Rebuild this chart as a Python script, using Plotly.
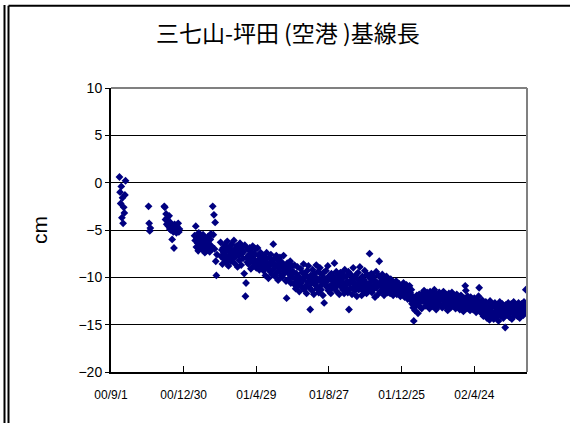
import pandas as pd
import plotly.graph_objects as go

# ---- data (cm), one value per day ----
seg_a_start = "2000-09-15"
seg_a_values = [0.6, -1.0, -2.2, -0.4, -3.7, -1.6, -4.3, -2.6, -3.2, -1.3, 0.2]

seg_b_start = "2000-11-02"
seg_b_values = [-2.5, -4.3, -5.1, -4.8]

seg_c_start = "2000-11-28"
seg_c_values = [-2.5, -2.6, -3.9, -3.3, -4.4, -3.7, -4.1, -4.6, -3.5, -4.9,
                -4.2, -5.0, -4.5, -6.0, -4.7, -5.2, -6.9, -4.4, -5.1, -4.8,
                -5.3, -4.6, -5.0, -4.3, -5.2, -4.9]

seg_d_start = "2001-01-17"
seg_d_values = [
    -5.6, -6.1, -4.6, -6.8, -5.9, -6.4, -7.2, -5.3, -6.0, -6.7,
    -5.8, -6.5, -7.0, -6.2, -5.5, -6.9, -6.3, -7.4, -5.9, -6.6,
    -6.1, -7.1, -5.7, -6.4, -6.8, -7.3, -6.0, -5.4, -6.7, -7.0,
    -2.5, -5.5, -3.4, -7.0, -4.2, -8.3, -9.8, -7.6, None, None,
    None, None, None, -6.3, -7.8, -7.1, -8.6, -6.9, -7.4, -8.1,
    -6.6, -7.7, -8.4, -7.0, -6.2, -7.9, -8.8, -7.3, -6.8, -7.6,
    -8.3, -6.5, -7.2, -8.0, -7.5, -6.1, -8.5, -7.0, -7.8, -6.7,
    -7.4, -8.9, -6.9, -7.7, -8.2, -6.4, -7.1, -8.7, -7.5, -6.8,
    -8.0, -7.3, -9.6, -6.6, -12.0, -10.6, -7.9, -8.4, -7.0, -8.6,
    -7.6, -6.9, -8.1, -9.1, -7.3, -8.3, -6.7, -7.8, -8.8, -7.5,
    -8.2, -7.0, -9.0, -8.4, -6.9, -8.6, -7.7, -9.2, -8.0, -7.4,
    -8.9, -8.3, -7.6, -8.4, -9.3, -7.8, -8.9, -9.8, -8.1, -7.4,
    -9.0, -8.6, -10.1, -7.9, -8.8, -9.4, -7.6, -8.3, -9.7, -8.5,
    -6.5, -9.1, -8.0, -9.9, -8.7, -7.7, -9.5, -8.2, -10.3, -8.9,
    -9.3, -7.9, -8.6, -9.8, -8.4, -10.0, -9.0, -7.7, -9.6, -8.8,
    -9.4, -10.4, -12.2, -8.5, -9.2, -10.2, -8.9, -9.7, -8.3, -10.6,
    -9.5, -8.8, -10.0, -9.4, -10.7, -8.7, -10.1, -11.2, -9.6, -10.4,
    -8.9, -10.8, -9.9, -11.5, -10.2, -9.1, -10.6, -11.0, -9.5, -10.3,
    -8.6, -11.3, -10.0, -9.7, -10.9, -11.7, -9.3, -10.5, -8.8, -10.1,
    -11.1, -13.4, -9.8, -10.6, -11.4, -9.2, -10.3, -11.8, -9.6, -10.8,
    -10.0, -8.7, -11.2, -10.4, -9.4, -11.6, -10.2, -9.0, -10.9, -11.3,
    -9.7, -10.5, -11.9, -9.5, -12.7, -10.1, -10.7, -9.3, -11.0, -10.4,
    -8.8, -11.4, -10.0, -9.8, -10.9, -11.7, -9.6, -10.3, -11.1, -9.9,
    -10.6, -8.5, -11.2, -10.2, -9.4, -11.5, -10.8, -9.7, -10.4, -11.8,
    -10.1, -9.5, -11.0, -10.5, -9.6, -11.3, -10.0, -11.7, -9.2, -10.8,
    -11.1, -9.9, -10.4, -11.6, -9.4, -13.4, -10.7, -11.2, -9.7, -10.3,
    -11.8, -10.1, -9.0, -11.0, -10.6, -11.4, -9.8, -10.9, -12.0, -10.2,
    -9.5, -11.3, -10.7, -8.9, -11.1, -10.4, -11.9, -9.9, -10.8, -11.5,
    -10.3, -9.3, -11.2, -10.6, -11.7, -9.7, -10.9, -11.4, -10.0, -7.5,
    -11.0, -10.5, -9.6, -11.6, -10.2, -11.3, -9.9, -10.8, -12.1, -10.4,
    -9.4, -11.1, -10.7, -11.8, -9.8, -8.3, -10.6, -11.5, -10.1, -11.0,
    -9.7, -11.4, -10.5, -11.9, -10.9, -10.0, -11.2, -9.9, -10.7, -11.6,
    -10.3, -11.1, -10.8, -11.7, -10.2, -11.3, -10.6, -11.0, -11.9, -10.5,
    -11.2, -10.8, -11.5, -10.4, -11.8, -10.9, -11.3, -11.6, -10.7, -11.1,
    -12.0, -11.4, -10.9, -11.2, -11.8, -10.6, -11.5, -12.1, -11.0, -11.7,
    -10.8, -11.4, -12.3, -11.1, -11.9, -10.9, -11.6, -12.4, -11.3, -12.8,
    -12.0, -13.2, -14.6, -12.5, -13.5, -12.2, -13.0, -11.9, -12.7, -13.8,
    -12.4, -11.8, -13.1, -12.6, -12.0, -13.3, -11.7, -12.5, -12.1, -11.4,
    -12.6, -11.9, -13.0, -12.3, -11.6, -12.8, -11.8, -12.2, -13.3, -11.5,
    -12.4, -12.9, -11.7, -12.0, -13.1, -12.5, -11.3, -12.7, -12.1, -13.4,
    -11.8, -12.6, -12.2, -13.0, -11.6, -12.4, -12.9, -11.9, -12.3, -13.2,
    -12.0, -11.5, -12.8, -12.4, -13.1, -11.8, -12.6, -12.1, -13.5, -12.3,
    -11.7, -12.9, -12.5, -13.2, -12.0, -11.6, -12.7, -13.0, -12.2, -11.9,
    -12.8, -13.3, -12.4, -11.8, -12.6, -13.1, -12.1, -12.9, -13.4, -12.3,
    -11.9, -12.7, -13.0, -12.5, -13.6, -12.2, -12.8, -10.9, -11.4, -13.2,
    -12.6, -12.0, -13.3, -12.9, -12.4, -13.5, -12.1, -12.7, -13.0, -12.3,
    -13.4, -12.8, -12.2, -13.1, -12.6, -13.7, -12.9, -12.5, -13.3, -12.0,
    -11.1, -13.6, -12.7, -13.0, -13.8, -12.4, -13.5, -14.1, -12.8, -13.3,
    -13.9, -12.6, -13.4, -14.3, -12.9, -13.7, -13.1, -14.5, -12.5, -13.6,
    -14.0, -13.2, -12.8, -13.9, -14.4, -13.0, -12.7, -13.6, -14.2, -13.3,
    -12.9, -13.8, -14.6, -13.1, -12.6, -13.5, -14.1, -13.4, -12.8, -13.9,
    -14.3, -13.2, -13.7, -15.3, -12.9, -13.6, -14.0, -13.3, -12.7, -13.8,
    -14.2, -13.0, -13.5, -12.8, -14.4, -13.7, -13.1, -12.6, -13.9, -14.0,
    -13.4, -12.9, -13.6, -14.1, -13.2, -12.7, -13.8, -14.3, -13.0, -13.5,
    -12.8, -13.9, -13.3, -14.0, -12.6, -13.7, -13.1, -11.3, -13.6, -12.9,
]

tick_dates = ["2000-09-01", "2000-12-30", "2001-04-29", "2001-08-27",
              "2001-12-25", "2002-04-24"]
tick_labels = ["00/9/1", "00/12/30", "01/4/29", "01/8/27", "01/12/25", "02/4/24"]
x_range = ["2000-09-01", "2002-07-20"]
y_ticks = [-20, -15, -10, -5, 0, 5, 10]

title_text = "三七山-坪田 (空港 )基線長"
y_title = "cm"

# ---- build series ----
xs, ys = [], []
for start, vals in [(seg_a_start, seg_a_values), (seg_b_start, seg_b_values),
                    (seg_c_start, seg_c_values), (seg_d_start, seg_d_values)]:
    dates = pd.date_range(start, periods=len(vals), freq="D")
    for d, v in zip(dates, vals):
        if v is not None:
            xs.append(d)
            ys.append(v)

fig = go.Figure()
fig.add_trace(go.Scatter(
    x=xs, y=ys, mode="markers",
    marker=dict(symbol="diamond", size=6, color="#000080", line=dict(width=0)),
    showlegend=False, cliponaxis=True,
))

W, H = 570, 423
L, R, T, B = 111, 527, 88, 372

def px(xp):
    return (xp - L) / (R - L)

def py(yp):
    return (B - yp) / (B - T)

shapes = [
    # plot area top and right border (grey)
    dict(type="line", xref="paper", yref="paper", x0=0, x1=1, y0=1, y1=1,
         line=dict(color="#808080", width=2)),
    dict(type="line", xref="paper", yref="paper", x0=1, x1=1, y0=0, y1=1,
         line=dict(color="#808080", width=2)),
    # outer chart frame
    dict(type="line", xref="paper", yref="paper", x0=px(4.5), x1=px(4.5),
         y0=py(5), y1=py(423), line=dict(color="black", width=2)),
    dict(type="line", xref="paper", yref="paper", x0=px(8.5), x1=px(8.5),
         y0=py(5.8), y1=py(423), line=dict(color="black", width=2)),
    dict(type="line", xref="paper", yref="paper", x0=px(8.5), x1=px(570),
         y0=py(5.8), y1=py(5.8), line=dict(color="black", width=2)),
]

fig.update_layout(
    width=W, height=H,
    margin=dict(l=L, r=W - R, t=T, b=H - B, pad=0),
    paper_bgcolor="white", plot_bgcolor="white",
    title=dict(text=title_text, x=0.505, xanchor="center", y=1 - 34 / H,
               yanchor="middle",
               font=dict(family="Noto Sans CJK JP", size=23, color="black")),
    font=dict(family="Liberation Sans, Arial", color="black"),
    shapes=shapes,
    xaxis=dict(
        type="date", range=x_range, tickvals=tick_dates, ticktext=tick_labels,
        showgrid=False, zeroline=False, showline=True, linecolor="black",
        linewidth=2, ticks="inside", ticklen=6, tickcolor="black", tickwidth=1,
        tickfont=dict(size=12, family="Liberation Sans, Arial"),
        ticklabelstandoff=11,
    ),
    yaxis=dict(
        range=[-20, 10], tickvals=y_ticks, showgrid=True, gridcolor="black",
        gridwidth=1, zeroline=False, showline=True, linecolor="black",
        linewidth=2, ticks="outside", ticklen=4, tickcolor="black",
        tickfont=dict(size=14, family="Liberation Sans, Arial"),
        title=dict(text=y_title, font=dict(size=21), standoff=25),
    ),
)

fig.write_html(
    "out.html",
    config={"displayModeBar": False},
    post_script="document.body.style.margin='0';document.body.style.overflow='hidden';",
)
